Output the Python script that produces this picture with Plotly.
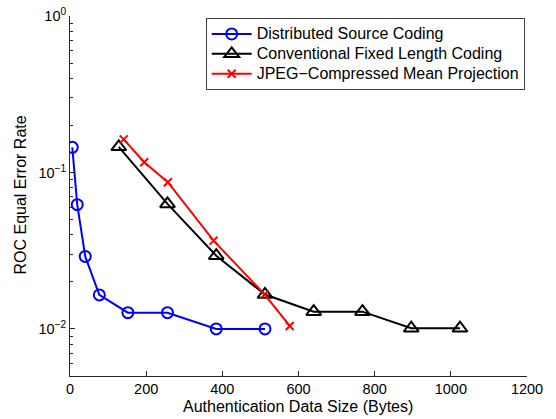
import plotly.graph_objects as go

# Data
dsc_x = [6, 19, 40, 77, 152, 256, 384, 512]
dsc_y = [0.145, 0.0623, 0.0291, 0.0165, 0.0127, 0.0127, 0.0100, 0.0100]

cflc_x = [128, 256, 384, 512, 640, 768, 896, 1024]
cflc_y = [0.146, 0.063, 0.0294, 0.0166, 0.0129, 0.0129, 0.0101, 0.0101]

jpeg_x = [141, 195, 257, 377, 511, 577]
jpeg_y = [0.163, 0.1164, 0.0867, 0.0367, 0.0166, 0.01045]

series_names = ["Distributed Source Coding",
                "Conventional Fixed Length Coding",
                "JPEG\u2212Compressed Mean Projection"]

x_ticks = [0, 200, 400, 600, 800, 1000, 1200]
y_ticks = [0.01, 0.1, 1]
y_ticktext = ["10<sup>\u22122</sup>", "10<sup>\u22121</sup>", "10<sup>0</sup>"]
y_minor = [m * 10 ** e for e in (-3, -2, -1) for m in range(2, 10) if 0.005 <= m * 10 ** e < 1]

x_title = "Authentication Data Size (Bytes)"
y_title = "ROC Equal Error Rate"

FONT = "Liberation Sans, Arial, Helvetica, sans-serif"
LEG_TXT = 16

W, H = 556, 419
ML, MR, MT, MB = 70, 29, 16, 43
PW, PH = W - ML - MR, H - MT - MB


def leg(name):
    return '<span style="font-size:%dpx">%s</span>' % (LEG_TXT, name)


fig = go.Figure()
fig.add_trace(go.Scatter(
    x=dsc_x, y=dsc_y, name=leg(series_names[0]), mode="lines+markers",
    line=dict(color="#0000ff", width=2),
    marker=dict(symbol="circle-open", size=11, color="#0000ff", line=dict(width=2))))
fig.add_trace(go.Scatter(
    x=cflc_x, y=cflc_y, name=leg(series_names[1]), mode="lines+markers",
    line=dict(color="#000000", width=2),
    marker=dict(symbol="triangle-up-open", size=13, color="#000000", line=dict(width=2))))
fig.add_trace(go.Scatter(
    x=jpeg_x, y=jpeg_y, name=leg(series_names[2]), mode="lines+markers",
    line=dict(color="#ff0000", width=2),
    marker=dict(symbol="x-thin-open", size=8, color="#ff0000", line=dict(width=2, color="#ff0000"))))

fig.update_layout(
    width=W, height=H,
    margin=dict(l=ML, r=MR, t=MT, b=MB, autoexpand=False),
    paper_bgcolor="white", plot_bgcolor="white",
    font=dict(family=FONT, size=14.5, color="black"),
    showlegend=True,
    legend=dict(x=(205.7 - ML) / PW, y=1 - (18 - MT) / PH,
                xanchor="left", yanchor="top",
                bordercolor="#404040", borderwidth=1, bgcolor="white",
                font=dict(family=FONT, size=13, color="black"),
                itemwidth=40, tracegroupgap=0),
    xaxis=dict(range=[0, 1200], tickvals=x_ticks, ticks="inside", ticklen=5,
               showline=True, linecolor="#262626", linewidth=1, tickcolor="#262626",
               showgrid=False, zeroline=False, mirror=False, automargin=False,
               ticklabeloverflow="allow",
               tickfont=dict(size=14.5)),
    yaxis=dict(type="log", range=[-2.301, 0.001], tickvals=y_ticks, ticktext=y_ticktext,
               ticks="inside", ticklen=5,
               showline=True, linecolor="#262626", linewidth=1, tickcolor="#262626",
               showgrid=False, zeroline=False, mirror=False, automargin=False,
               ticklabeloverflow="allow",
               tickfont=dict(size=14.5),
               minor=dict(tickvals=y_minor, ticks="inside", ticklen=3, tickcolor="#262626", showgrid=False)),
    annotations=[
        dict(text=x_title, xref="paper", yref="paper",
             x=(298 - ML) / PW, y=-(407 - (H - MB)) / PH,
             xanchor="center", yanchor="middle", showarrow=False,
             font=dict(size=16)),
        dict(text=y_title, xref="paper", yref="paper",
             x=(20 - ML) / PW, y=((H - MB) - 195.5) / PH,
             xanchor="center", yanchor="middle", showarrow=False, textangle=-90,
             font=dict(size=16)),
    ],
)

fig.write_html("out.html",
               config={"displayModeBar": False},
               post_script="document.body.style.margin='0';document.body.style.overflow='hidden';")
